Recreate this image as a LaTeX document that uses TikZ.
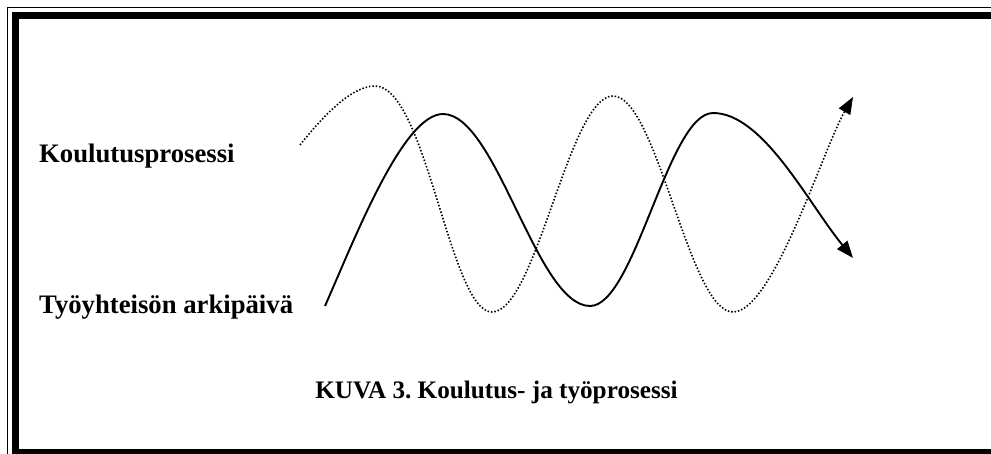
\documentclass[tikz,border=0pt]{standalone}
\usepackage{fontspec}
\setmainfont{Liberation Serif}
\usetikzlibrary{arrows.meta}
\tikzset{
  lbl/.style={font=\fontsize{26.7}{30}\selectfont\bfseries, inner sep=0pt},
  capt/.style={font=\fontsize{25.2}{30}\selectfont\bfseries\frenchspacing, inner sep=0pt},
  solidcurve/.style={line width=1.9pt, line join=round, -{Triangle[length=17pt,width=13pt]}},
  dotcurve/.style={line width=1.6pt, dash pattern=on 1.5pt off 1.9pt, -{Triangle[length=17pt,width=13pt]}},
}
\begin{document}
\begin{tikzpicture}[x=1pt,y=-1pt]
\useasboundingbox (0,0) rectangle (991,454);
\clip (0,0) rectangle (991,454);
\fill[white] (0,0) rectangle (991,454);
% frame
\draw[line width=1.8pt] (7.5,7.5) rectangle (1010,470);
\draw[line width=7pt] (15.5,15.5) rectangle (1005,452);
% labels
\node[lbl, anchor=base west] (koul) at (39,163) {Koulutusprosessi};
\node[lbl, anchor=base west] (tyo) at (39,314) {Työyhteisön arkipäivä};
\node[capt, anchor=base] (cap) at (496.5,399) {KUVA 3. Koulutus- ja työprosessi};
% curve end points
\coordinate (ds) at (300,145);
\coordinate (de) at (853,97);
\coordinate (ss) at (325,306);
\coordinate (se) at (853,258);
% dotted curve (Koulutusprosessi)
\draw[dotcurve] (ds) .. controls (320,120) and (350,86) .. (375,86)
  .. controls (426,86) and (450,312) .. (492,312)
  .. controls (536,312) and (569,96) .. (613,96)
  .. controls (657,96) and (689,312) .. (733,312)
  .. controls (773,312) and (823,149) .. (de);
% solid curve (Työyhteisön arkipäivä)
\draw[solidcurve] (ss) .. controls (355,238) and (403,114) .. (443,114)
  .. controls (496.5,114) and (536.5,306) .. (590,306)
  .. controls (634.8,306) and (668.2,113) .. (713,113)
  .. controls (763,113) and (808,203) .. (se);
\end{tikzpicture}
\end{document}
